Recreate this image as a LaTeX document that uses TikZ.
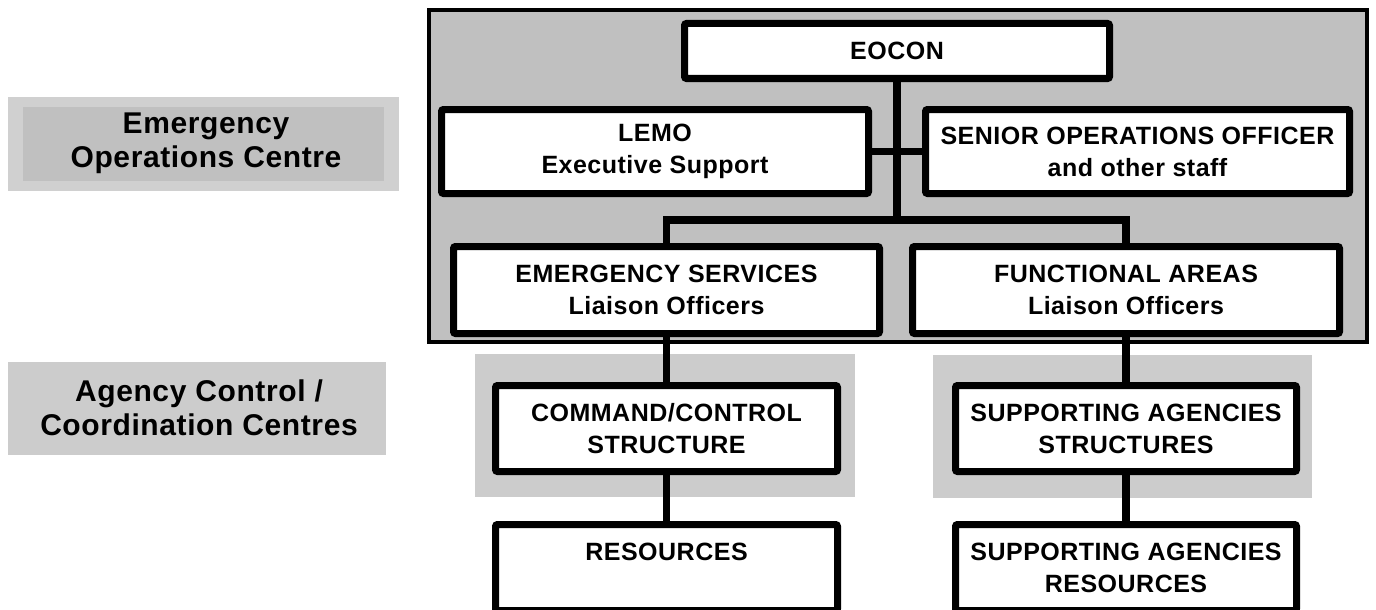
\documentclass[tikz,border=0pt]{standalone}
\usepackage{fontspec}
\setmainfont{Liberation Sans}
\newfontfamily\spacedfont[LetterSpace=2]{Liberation Sans}
\definecolor{bigfill}{RGB}{192,192,192}
\definecolor{lightfill}{RGB}{204,204,204}
\definecolor{lblouter}{RGB}{208,208,208}
\tikzset{
  bx/.style={draw=black, line width=7pt, fill=white, rounded corners=2pt, align=center,
    inner sep=0pt, font=\spacedfont\bfseries\fontsize{25}{32}\selectfont},
  lbl/.style={align=center, inner sep=0pt, font=\spacedfont\bfseries\fontsize{30}{34}\selectfont},
  conn/.style={draw=black, line width=7.5pt}
}
\begin{document}
\begin{tikzpicture}[x=1pt,y=-1pt]
\useasboundingbox (0,0) rectangle (1376,610);
% left labels
\fill[lblouter] (8,97) rectangle (399,191);
\fill[bigfill] (23,107) rectangle (384,181);
\node[lbl] (eoc) at (206,143) {Emergency\\Operations Centre};
\fill[lightfill] (8,362) rectangle (386,455);
\node[lbl] (acc) at (199,408) {Agency Control /\\Coordination Centres};
% big grey box
\draw[fill=bigfill, line width=4pt] (429,10) rectangle (1367,342);
% light grey backgrounds
\fill[lightfill] (475,354) rectangle (855,497);
\fill[lightfill] (933,355) rectangle (1312,498);
% nodes
\node[bx, minimum width=425pt, minimum height=55pt] (eocon) at (897,51) {EOCON};
\node[bx, minimum width=427pt, minimum height=84pt] (lemo) at (655,151.5) {LEMO\\Executive Support};
\node[bx, minimum width=424pt, minimum height=84pt] (senior) at (1137.5,151.5) {SENIOR OPERATIONS OFFICER\\and other staff};
\node[bx, minimum width=426pt, minimum height=87pt] (es) at (666.5,290) {EMERGENCY SERVICES\\Liaison Officers};
\node[bx, minimum width=427pt, minimum height=87pt] (fa) at (1126,290) {FUNCTIONAL AREAS\\Liaison Officers};
\node[bx, minimum width=342pt, minimum height=86pt] (cmd) at (666.5,428.5) {COMMAND/CONTROL\\STRUCTURE};
\node[bx, minimum width=341pt, minimum height=86pt] (sas) at (1126,428.5) {SUPPORTING AGENCIES\\STRUCTURES};
\node[bx, minimum width=342pt, minimum height=86pt] (res) at (666.5,567.5) {RESOURCES\\\mbox{}};
\node[bx, minimum width=341pt, minimum height=86pt] (sar) at (1126,567.5) {SUPPORTING AGENCIES\\RESOURCES};
% connectors
\coordinate (j) at (897,220);
\draw[conn] (eocon.south) -- (j);
\draw[conn] (lemo.east) -- (senior.west);
\draw[conn] (es.north) |- (j) -| (fa.north);
\draw[conn] (es.south) -- (cmd.north);
\draw[conn] (cmd.south) -- (res.north);
\draw[conn] (fa.south) -- (sas.north);
\draw[conn] (sas.south) -- (sar.north);
\end{tikzpicture}
\end{document}
